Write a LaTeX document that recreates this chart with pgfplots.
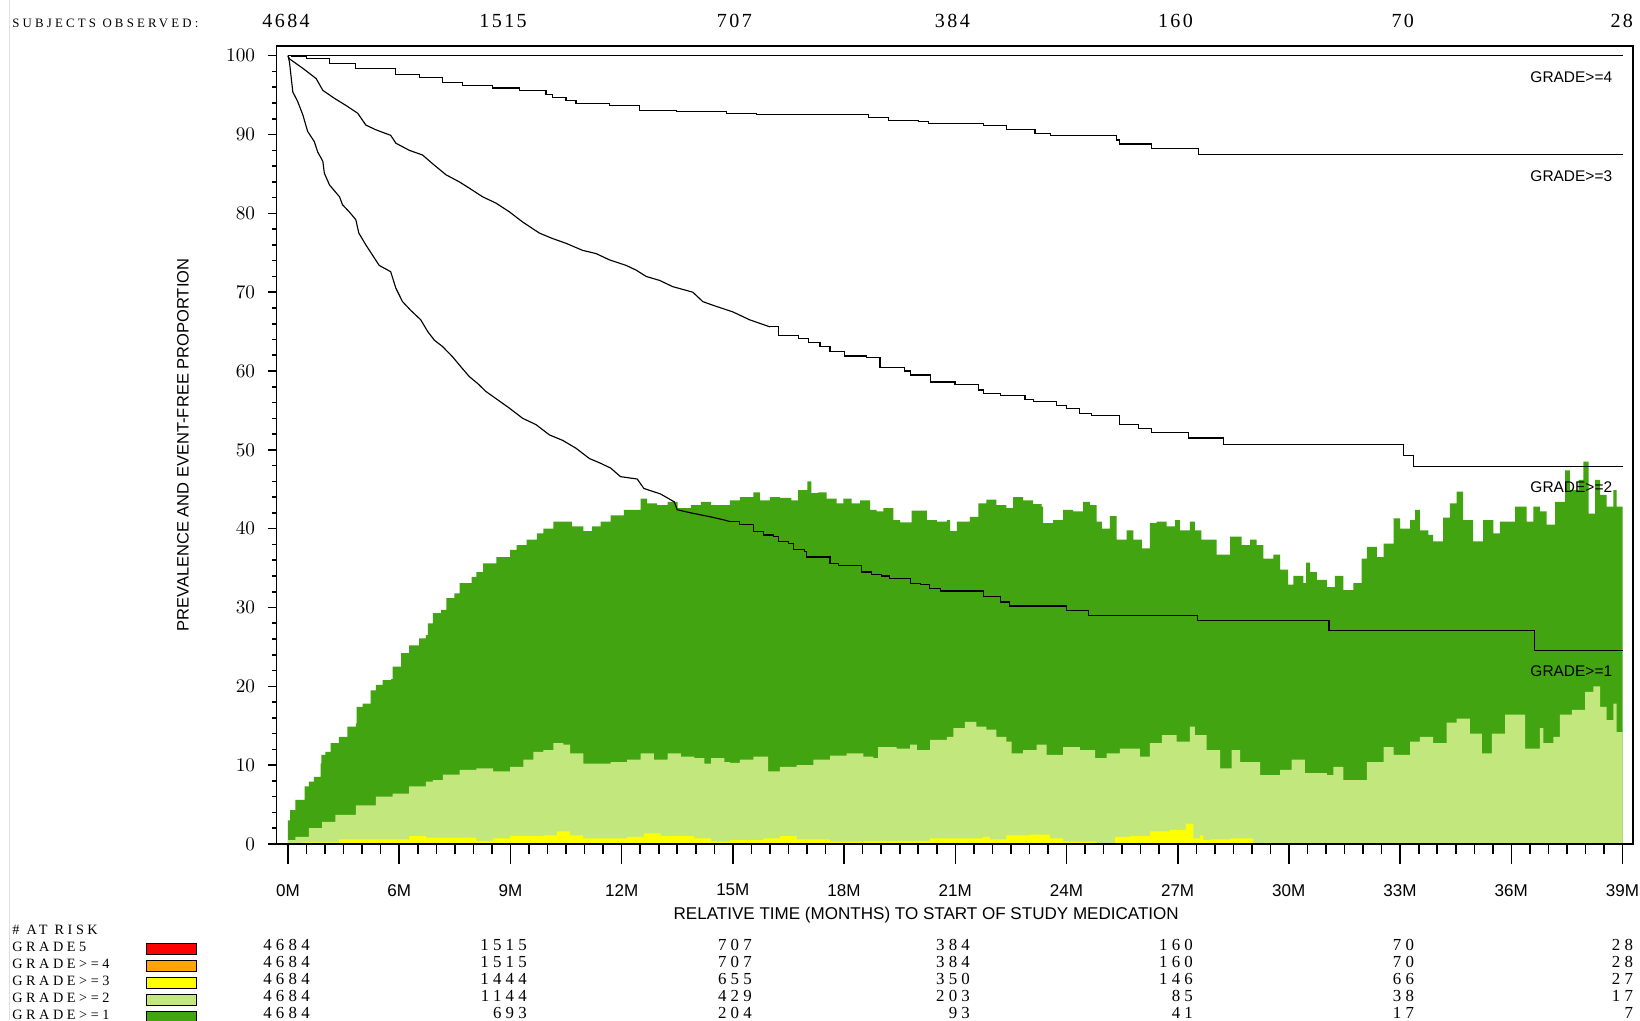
\documentclass[border=0pt]{standalone}
\usepackage{fontspec}
\setmainfont{Liberation Serif}
\newfontfamily\sansf{Liberation Sans}
\newfontfamily\sasf[LetterSpace=25]{Liberation Serif}
\newfontfamily\numf[LetterSpace=12]{Liberation Serif}
\newfontfamily\tabf[LetterSpace=25]{Liberation Serif}
\usepackage{pgfplots}
\pgfplotsset{compat=1.18}
\definecolor{dg}{RGB}{67,164,17}
\definecolor{lg}{RGB}{193,231,125}
\definecolor{yl}{RGB}{255,255,0}
\definecolor{org}{RGB}{255,165,0}
\definecolor{rd}{RGB}{255,0,0}
\begin{document}
\begin{tikzpicture}
\useasboundingbox (0,0) rectangle (32.8cm,20.4cm);
\fill[white] (0,0) rectangle (32.8cm,20.4cm);
\begin{axis}[at={(5.53cm,3.52cm)}, anchor=south west, scale only axis,
  width=27.13cm, height=15.966cm,
  xmin=-0.31, xmax=36.28, ymin=0, ymax=101.27,
  xtick=\empty, ytick={0,10,...,100}, minor y tick num=4, ytick pos=left,
  tick align=outside, major tick length=0.18cm, minor tick length=0.09cm,
  axis on top,
  axis line style={line width=1.1pt},
  tick style={line width=0.9pt, black},
  yticklabel style={font=\sansf\fontsize{10.8}{11}\selectfont, xshift=-0.125cm},
]
% GRADE>=1 prevalence
\addplot[fill=dg, draw=none, const plot] coordinates {
(0.00,3.0)(0.06,4.3)(0.20,5.6)(0.45,7.3)(0.56,7.9)(0.70,8.5)(0.88,10.2)(0.90,11.3)(1.01,11.7)(1.15,12.8)(1.37,13.6)(1.60,14.9)(1.83,15.3)(1.85,17.4)(2.01,17.8)(2.23,19.5)(2.37,20.2)(2.55,20.8)(2.78,20.9)(2.82,22.5)(3.05,24.2)(3.27,25.2)(3.54,26.1)(3.72,26.5)(3.77,28.0)(3.91,29.3)(4.13,29.7)(4.27,31.2)(4.49,31.8)(4.63,33.1)(4.95,33.9)(5.08,34.5)(5.26,35.6)(5.62,36.4)(5.99,37.3)(6.17,37.9)(6.44,38.6)(6.71,39.4)(6.89,40.0)(7.16,40.9)(7.43,40.9)(7.66,40.3)(7.97,39.7)(8.20,40.3)(8.43,40.9)(8.70,41.7)(9.06,42.4)(9.38,42.4)(9.51,43.8)(9.69,43.2)(9.96,43.0)(10.24,43.4)(10.51,42.6)(10.87,43.0)(11.14,43.4)(11.41,43.0)(11.77,43.0)
(11.92,43.6)(12.19,44.0)(12.55,44.6)(12.73,43.6)(13.00,44.0)(13.27,43.9)(13.58,43.6)(13.76,44.9)(14.01,46.0)(14.12,44.5)(14.30,44.6)(14.53,43.8)(14.80,43.2)(14.98,43.8)(15.20,43.2)(15.43,43.6)(15.70,42.4)(15.88,42.2)(16.06,42.6)(16.33,41.1)(16.51,40.8)(16.82,42.3)(17.23,41.1)(17.50,40.9)(17.77,41.1)(17.86,39.7)(18.04,40.9)(18.39,41.5)(18.57,41.5)(18.62,43.2)(18.84,43.7)(19.11,43.0)(19.38,42.6)(19.56,44.0)(19.83,43.6)(20.10,43.1)(20.33,42.8)(20.37,40.7)(20.64,41.1)(20.91,42.4)(21.18,42.2)(21.45,43.4)(21.63,43.0)(21.81,40.9)(21.95,40.0)(22.17,41.6)(22.35,38.6)(22.62,39.8)(22.80,38.6)(23.03,37.5)(23.25,40.7)(23.43,40.9)(23.70,40.3)(23.93,41.1)
(24.06,39.8)(24.33,40.9)(24.46,39.8)(24.64,38.6)(25.05,36.7)(25.41,39.0)(25.72,37.9)(25.95,38.6)(26.13,37.9)(26.31,36.2)(26.58,36.7)(26.76,34.8)(26.98,32.9)(27.12,34.0)(27.39,33.1)(27.46,35.7)(27.57,34.5)(27.75,33.5)(28.02,32.6)(28.24,34.0)(28.47,32.2)(28.74,33.1)(28.96,36.2)(29.10,37.7)(29.37,36.4)(29.55,38.1)(29.82,41.3)(30.00,40.0)(30.27,41.1)(30.40,42.4)(30.53,39.8)(30.76,39.2)(30.89,38.4)(31.16,41.4)(31.34,43.2)(31.52,44.7)(31.70,41.1)(31.97,38.4)(32.24,41.1)(32.51,39.4)(32.69,40.9)(33.10,42.8)(33.41,40.9)(33.59,42.8)(33.77,42.2)(33.95,40.5)(34.18,43.4)(34.45,47.4)(34.58,44.9)(34.81,46.2)(34.94,48.5)(35.08,41.9)(35.26,46.2)(35.39,44.3)(35.57,42.8)(35.75,44.9)(35.84,42.8)(36.00,42.8)
} \closedcycle;
% GRADE>=2 prevalence
\addplot[fill=lg, draw=none, const plot] coordinates {
(0.00,0.5)(0.20,0.9)(0.56,2.0)(0.92,2.8)(1.28,3.7)(1.83,4.9)(2.37,6.0)(2.82,6.4)(3.27,7.3)(3.72,7.9)(3.91,8.1)(4.18,8.8)(4.63,9.4)(5.08,9.6)(5.53,9.2)(5.99,9.8)(6.35,10.7)(6.62,11.7)(6.89,11.9)(7.16,12.8)(7.43,12.6)(7.61,11.5)(7.97,10.2)(8.34,10.2)(8.70,10.4)(9.15,10.7)(9.51,11.5)(9.87,10.7)(10.24,11.5)(10.60,11.1)(10.96,10.9)(11.23,10.2)(11.41,10.9)(11.77,10.4)
(11.92,10.3)(12.19,10.7)(12.55,11.1)(12.95,9.2)(13.27,9.8)(13.72,10.0)(14.17,10.7)(14.62,11.2)(15.07,11.5)(15.52,11.1)(15.79,10.9)(15.92,12.3)(16.42,12.1)(16.78,12.6)(16.96,11.9)(17.32,13.2)(17.77,13.6)(17.95,14.7)(18.26,15.5)(18.57,14.9)(18.84,14.5)(19.11,13.6)(19.38,13.0)(19.52,11.5)(19.83,11.9)(20.19,12.6)(20.46,11.3)(20.91,12.3)(21.36,11.9)(21.77,10.9)(22.08,11.5)(22.44,12.1)(22.98,11.1)(23.25,12.8)(23.57,13.8)(23.97,13.0)
(24.06,13.0)(24.33,14.9)(24.46,13.8)(24.78,11.9)(25.14,9.6)(25.45,11.9)(25.68,10.4)(26.22,8.75)(26.76,9.4)(27.07,10.7)(27.43,9.0)(28.02,8.75)(28.20,9.8)(28.47,8.1)(29.10,10.4)(29.55,12.3)(29.82,11.3)(30.27,13.0)(30.53,13.6)(30.89,12.8)(31.25,15.4)(31.52,15.9)(31.88,14.0)(32.20,11.5)(32.47,14.0)(32.83,16.4)(33.05,16.4)(33.37,12.1)(33.77,14.7)(33.86,12.8)(34.13,13.6)(34.31,16.4)(34.63,17.0)(34.99,19.3)(35.21,20.0)(35.39,17.4)(35.57,15.7)(35.75,17.8)(35.84,14.2)(36.00,14.2)
} \closedcycle;
% GRADE>=3 prevalence
\addplot[fill=yl, draw=none, const plot] coordinates {
(0.38,0.2)(1.37,0.6)(3.27,1.0)(3.72,0.8)(5.08,0.4)(5.53,0.7)(5.99,1.0)(6.89,1.1)(7.25,1.6)(7.61,1.1)(7.97,0.7)(9.15,0.9)(9.60,1.35)(10.05,1.0)(10.96,0.7)(11.41,0.3)
(11.92,0.5)(12.82,0.7)(13.27,1.0)(13.72,0.6)(14.62,0.3)(15.52,0.4)(17.32,0.7)(18.75,0.9)(18.93,0.6)(19.38,1.1)(20.01,1.2)(20.55,0.7)(20.91,0.3)(21.81,0.0)(22.31,0.9)(22.71,1.0)(23.25,1.6)(23.79,1.8)
(24.06,1.8)(24.22,2.6)(24.42,0.7)(24.60,1.1)(24.69,0.5)(24.90,0.6)(25.41,0.7)(26.04,0.0)
} \closedcycle;
% event-free curves
\addplot[black, line width=0.65pt] coordinates {(0,100)(36,100)};
% GRADE>=3
\addplot[black, line width=0.65pt, const plot] coordinates {
(0,100)(0.1,99.9)(0.49,99.66)(1.12,99.0)(1.83,98.4)(2.91,97.6)(3.54,97.2)(4.17,96.6)(4.71,96.2)(5.52,95.9)(6.24,95.6)(6.96,95.1)(7.14,94.7)(7.5,94.3)(7.77,93.9)(8.67,93.7)(9.48,93.1)(10.47,92.9)(11.82,92.7)(12.63,92.5)(15.65,92.2)(16.19,91.8)(17.0,91.6)(17.27,91.4)(18.76,91.1)(19.38,90.6)(20.15,90.1)(20.57,89.9)(22.35,89.3)(22.42,88.8)(23.3,88.2)(24.56,87.5)(36,87.5)};
% GRADE>=2
\addplot[black, line width=0.65pt] coordinates {
(0,100)(0.04,99.6)(0.40,98.4)(0.76,97.1)(0.94,95.6)(1.25,94.6)(1.56,93.7)(1.88,92.7)(2.1,91.2)(2.37,90.6)(2.77,89.9)(2.91,88.9)(3.27,88.0)(3.63,87.4)(3.90,86.3)(4.26,84.9)(4.62,84.0)(4.89,83.2)(5.25,82.1)(5.61,81.3)(5.97,80.2)(6.33,78.9)(6.78,77.5)(7.14,76.8)(7.50,76.2)(7.95,75.3)(8.31,74.9)(8.67,74.1)(9.12,73.4)(9.39,72.8)(9.66,72.0)(10.02,71.5)(10.38,70.7)(10.92,70.0)(11.19,68.8)(11.55,68.2)(12.0,67.5)(12.45,66.5)(13.0,65.6)};
\addplot[black, line width=0.65pt, const plot] coordinates {
(13.0,65.6)(13.22,64.5)(13.76,64.1)(14.03,63.6)(14.35,63.1)(14.62,62.5)(15.0,61.9)(15.61,61.7)(15.97,60.5)(16.64,60.0)(16.78,59.5)(17.32,58.6)(17.99,58.3)(18.62,57.6)(18.76,57.2)(19.21,56.9)(19.88,56.4)(20.1,56.1)(20.72,55.6)(21.0,55.3)(21.36,54.6)(21.68,54.4)(22.42,53.2)(22.94,52.7)(23.3,52.2)(24.29,51.5)(25.23,50.7)(30.09,49.3)(30.35,47.9)(36,47.9)};
% GRADE>=1
\addplot[black, line width=0.65pt] coordinates {
(0,100)(0.04,99.2)(0.08,97.5)(0.13,95.4)(0.26,94.2)(0.40,92.5)(0.53,90.4)(0.71,89.1)(0.80,87.8)(0.94,86.6)(0.98,85.1)(1.12,83.6)(1.39,82.1)(1.47,81.1)(1.65,80.2)(1.83,79.2)(1.91,77.5)(2.10,76.0)(2.28,74.7)(2.46,73.4)(2.77,72.6)(2.91,70.5)(3.09,68.8)(3.31,67.7)(3.58,66.5)(3.77,65.0)(3.95,63.9)(4.17,63.1)(4.44,61.8)(4.67,60.5)(4.89,59.3)(5.12,58.4)(5.34,57.4)(5.61,56.5)(5.97,55.3)(6.33,54.0)(6.69,53.2)(7.05,51.9)(7.41,51.2)(7.77,50.2)(8.13,48.9)(8.43,48.3)(8.7,47.7)(8.97,46.6)(9.42,46.3)(9.6,45.1)(10.05,44.4)(10.42,43.4)(10.5,42.4)(10.87,42.0)(11.4,41.5)(11.77,41.1)(11.92,40.9)};
\addplot[black, line width=0.65pt, const plot] coordinates {
(11.92,40.9)(12.19,40.5)(12.55,39.6)(12.82,39.2)(13.09,39.0)(13.22,38.4)(13.49,38.1)(13.63,37.4)(13.94,37.1)(13.99,36.4)(14.62,35.6)(14.84,35.3)(15.47,34.5)(15.74,34.2)(16.01,34.0)(16.22,33.7)(16.79,33.1)(17.05,32.9)(17.3,32.4)(17.59,32.1)(18.75,31.4)(19.22,30.7)(19.47,30.2)(21.0,29.6)(21.59,29.0)(24.53,28.3)(28.08,27.1)(33.62,24.6)(36,24.6)};
\end{axis}
\begin{axis}[at={(5.53cm,3.52cm)}, anchor=south west, scale only axis,
  width=27.13cm, height=15.966cm,
  xmin=-0.31, xmax=36.28, ymin=0, ymax=101.27,
  axis x line*=bottom, hide y axis, axis line style={draw=none},
  xtick={0,3,...,36}, xticklabels={},
  minor x tick num=5,
  tick align=outside, major tick length=0.4cm, minor tick length=0.2cm,
  tick style={line width=0.9pt, black},
]
\addplot[draw=none] coordinates {(0,0)};
\end{axis}
\begin{scope}[x=0.02cm, y=-0.02cm, shift={(0cm,20.4cm)}]
\draw[gray!25, line width=0.5pt] (9,0) -- (9,1020);
\foreach \k/\l in {0/0M,1/6M,2/9M,3/12M,4/15M,5/18M,6/21M,7/24M,8/27M,9/30M,10/33M,11/36M,12/39M}
  \node[anchor=center, inner sep=0pt, font=\sansf\fontsize{9.7}{10}\selectfont] at ({288+111.17*\k},890) {\l};
\node[anchor=center, font=\sansf\fontsize{9.7}{10}\selectfont] at (926,915) {RELATIVE TIME (MONTHS) TO START OF STUDY MEDICATION};
\node[anchor=center, rotate=90, font=\sansf\fontsize{9.4}{10}\selectfont] at (183,445) {PREVALENCE AND EVENT-FREE PROPORTION};
\foreach \t/\yy in {GRADE>=4/77, GRADE>=3/176, GRADE>=2/487, GRADE>=1/671}
  \node[anchor=east, font=\sansf\fontsize{8.8}{9}\selectfont] at (1618,\yy) {\t};
\node[anchor=west, inner sep=0pt, font=\sasf\fontsize{7.3}{8}\selectfont] at (12,23) {SUBJECTS OBSERVED:};
\foreach \v/\xx in {4684/310, 1515/527, 707/752, 384/970, 160/1193, 70/1414, 28/1633}
  \node[anchor=east, inner sep=0pt, font=\numf\fontsize{11.4}{12}\selectfont] at (\xx,21) {\v};
\node[anchor=west, inner sep=0pt, font=\sasf\fontsize{8.1}{9}\selectfont] at (12,930) {\# AT RISK};
\foreach \t/\yy in {GRADE5/947, GRADE>=4/964, GRADE>=3/981, GRADE>=2/998, GRADE>=1/1015}
  \node[anchor=west, inner sep=0pt, font=\sasf\fontsize{8.1}{9}\selectfont] at (12,\yy) {\t};
\foreach \c/\yy in {rd/949, org/966, yl/983, lg/1000, dg/1017}
  \draw[fill=\c, draw=black, line width=0.55pt] (146,\yy-5.5) rectangle (196,\yy+5.5);
\foreach \yy/\a/\b/\c/\d/\e/\f/\g in {945/4684/1515/707/384/160/70/28, 962/4684/1515/707/384/160/70/28, 979/4684/1444/655/350/146/66/27, 996/4684/1144/429/203/85/38/17, 1013/4684/693/204/93/41/17/7}{
  \foreach \v/\xx in {\a/310, \b/527, \c/752, \d/970, \e/1193, \f/1414, \g/1633}
    \node[anchor=east, inner sep=0pt, font=\tabf\fontsize{9.6}{10}\selectfont] at (\xx,\yy) {\v};
}
\end{scope}
\end{tikzpicture}
\end{document}
